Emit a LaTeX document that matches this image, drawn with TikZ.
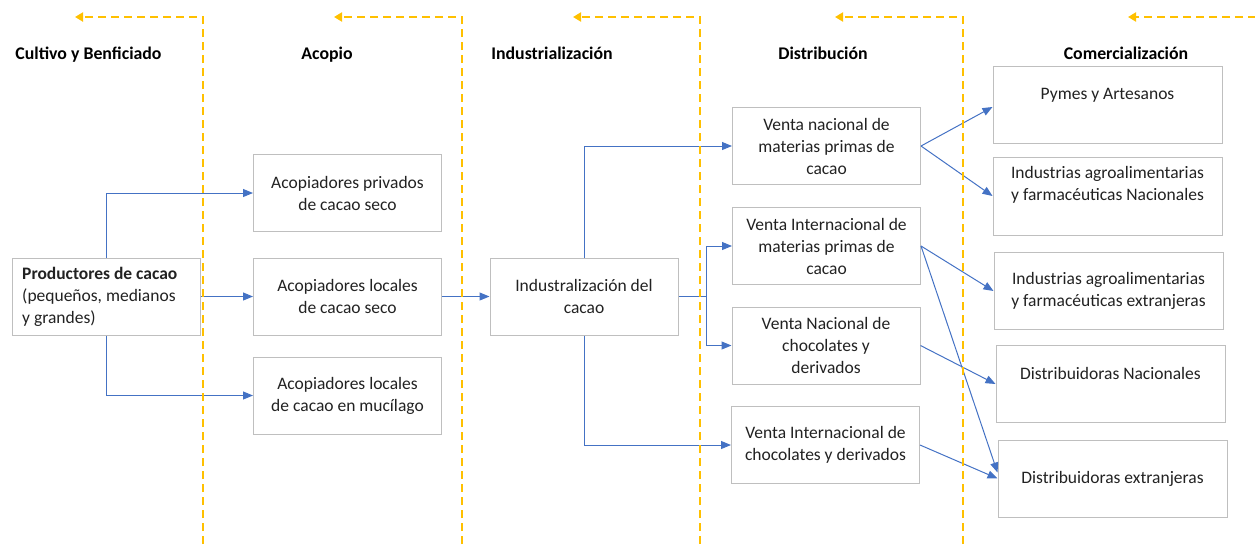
\documentclass[tikz,border=0pt]{standalone}
\usepackage{fontspec}
\setmainfont{Carlito}
\usetikzlibrary{arrows.meta}
\definecolor{flow}{HTML}{4472C4}
\definecolor{stage}{HTML}{FFC000}
\definecolor{frame}{HTML}{BFBFBF}
\definecolor{ink}{HTML}{222222}

\begin{document}
\begin{tikzpicture}[x=1pt, y=-1pt,
  box/.style={draw=frame, line width=1pt, fill=white, text=ink, align=center,
    inner sep=0pt, minimum height=77pt, font=\fontsize{17.5}{22}\selectfont},
  midbox/.style={box, minimum width=188pt},
  endbox/.style={box, minimum width=229pt},
  boxtext/.style={text=ink, align=center, inner sep=0pt, font=\fontsize{17.5}{22}\selectfont},
  head/.style={text=black, inner sep=0pt, anchor=base, font=\bfseries\fontsize{17.8}{20}\selectfont},
  link/.style={draw=flow, line width=1pt, -{Triangle[length=10pt,width=8pt]}},
  wire/.style={draw=flow, line width=1pt},
  stageline/.style={draw=stage, line width=2pt, dash pattern=on 8pt off 5pt,
    -{Triangle[length=8pt,width=9pt]}}]
\useasboundingbox (0,0) rectangle (1255,544);

% stage headings
\node[head] (h1) at (88.5,59) {Cultivo y Benficiado};
\node[head] (h2) at (327,59) {Acopio};
\node[head] (h3) at (552,59) {Industrialización};
\node[head] (h4) at (823,59) {Distribución};
\node[head] (h5) at (1126,59) {Comercialización};

% producers and collectors
\node[midbox] (prod) at (106,296.5) {};
\node[boxtext, align=left, anchor=west] (prod-t) at (22,296.5)
  {\textbf{Productores de cacao}\\(pequeños, medianos\\y grandes)};
\node[midbox] (acp) at (347.5,193) {Acopiadores privados\\de cacao seco};
\node[midbox] (acs) at (347.5,296.5) {Acopiadores locales\\de cacao seco};
\node[midbox] (acm) at (347.5,395.5) {Acopiadores locales\\de cacao en mucílago};

% processing
\node[midbox] (ind) at (584,296.5) {Industralización del\\cacao};

% distribution
\node[midbox] (vnm) at (826.5,146) {Venta nacional de\\materias primas de\\cacao};
\node[midbox] (vim) at (826.5,246) {Venta Internacional de\\materias primas de\\cacao};
\node[midbox] (vnc) at (826,345.5) {Venta Nacional de\\chocolates y\\derivados};
\node[midbox] (vic) at (825.5,445) {Venta Internacional de\\chocolates y derivados};

% commercialisation
\node[endbox] (pymes) at (1107.5,105) {};
\node[boxtext] (pymes-t) at (1107.5,95) {Pymes y Artesanos};
\node[endbox, minimum height=78pt] (indn) at (1107.5,196) {};
\node[boxtext] (indn-t) at (1107.5,185) {Industrias agroalimentarias\\y farmacéuticas Nacionales};
\node[endbox] (inde) at (1108.5,291) {Industrias agroalimentarias\\y farmacéuticas extranjeras};
\node[endbox] (distn) at (1110.5,384) {};
\node[boxtext] (distn-t) at (1110.5,373) {Distribuidoras Nacionales};
\node[endbox] (diste) at (1112.5,478.5) {Distribuidoras extranjeras};

% flows
\draw[link] (prod.north) |- (acp.west);
\draw[link] (prod.east) -- (acs.west);
\draw[link] (prod.south) |- (acm.west);
\draw[link] (acs.east) -- (ind.west);

\draw[link] (ind.north) |- (vnm.west);
\draw[wire] (ind.east) -- ++(28,0) coordinate (split);
\draw[link] (split) |- (vim.west);
\draw[link] (split) |- (vnc.west);
\draw[link] (ind.south) |- (vic.west);

\draw[link] (vnm.east) -- ([yshift=-2pt]pymes.west);
\draw[link] (vnm.east) -- (indn.west);
\draw[link] (vim.east) -- (inde.west);
\draw[link] (vim.east) -- ([yshift=6pt]diste.west);
\draw[link] (vnc.east) -- (distn.west);
\draw[link] (vic.east) -- (diste.west);

% stage boundaries
\coordinate (s1b) at (203,544);  \coordinate (s1c) at (203,17);  \coordinate (s1e) at (75,17);
\coordinate (s2b) at (462,544);  \coordinate (s2c) at (462,17);  \coordinate (s2e) at (334,17);
\coordinate (s3b) at (700,544);  \coordinate (s3c) at (700,17);  \coordinate (s3e) at (573,17);
\coordinate (s4b) at (963,544);  \coordinate (s4c) at (963,17);  \coordinate (s4e) at (835,17);
\coordinate (s5c) at (1256,17);  \coordinate (s5e) at (1128,17);
\draw[stageline] (s1b) -- (s1c) -- (s1e);
\draw[stageline] (s2b) -- (s2c) -- (s2e);
\draw[stageline] (s3b) -- (s3c) -- (s3e);
\draw[stageline] (s4b) -- (s4c) -- (s4e);
\draw[stageline] (s5c) -- (s5e);
\end{tikzpicture}
\end{document}
